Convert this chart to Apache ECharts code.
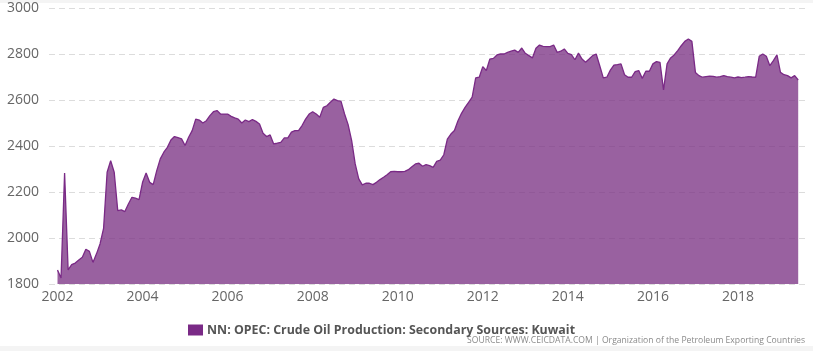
<!DOCTYPE html>
<html>
<head>
<meta charset="utf-8">
<script src="https://cdn.jsdelivr.net/npm/echarts@6/dist/echarts.min.js"></script>
<style>
  html, body { margin: 0; padding: 0; background: #fff; }
  #chart { width: 813px; height: 351px; }
</style>
</head>
<body>
<div id="chart"></div>
<script>
// monthly values, thousand barrels per day
var y2002 = [1861, 1826, 2283, 1861, 1884, 1891, 1904, 1916, 1951, 1942, 1894, 1931];
var y2003 = [1974, 2042, 2286, 2336, 2286, 2119, 2122, 2115, 2148, 2177, 2173, 2167];
var y2004 = [2242, 2283, 2242, 2232, 2293, 2344, 2373, 2394, 2426, 2441, 2436, 2431];
var y2005 = [2402, 2438, 2467, 2517, 2513, 2500, 2510, 2532, 2549, 2554, 2539, 2539];
var y2006 = [2539, 2529, 2522, 2517, 2500, 2513, 2506, 2515, 2507, 2496, 2455, 2441];
var y2007 = [2448, 2409, 2412, 2416, 2435, 2435, 2460, 2467, 2467, 2489, 2517, 2539];
var y2008 = [2549, 2539, 2525, 2568, 2575, 2590, 2604, 2597, 2594, 2539, 2493, 2423];
var y2009 = [2322, 2257, 2231, 2238, 2238, 2232, 2242, 2254, 2264, 2275, 2288, 2290];
var y2010 = [2288, 2288, 2290, 2297, 2310, 2322, 2325, 2312, 2319, 2315, 2307, 2333];
var y2011 = [2339, 2362, 2430, 2452, 2467, 2510, 2542, 2568, 2590, 2612, 2696, 2699];
var y2012 = [2745, 2728, 2778, 2781, 2796, 2800, 2800, 2807, 2812, 2817, 2807, 2826];
var y2013 = [2803, 2793, 2783, 2825, 2839, 2833, 2832, 2832, 2839, 2807, 2812, 2822];
var y2014 = [2803, 2797, 2775, 2804, 2778, 2764, 2778, 2793, 2800, 2749, 2696, 2699];
var y2015 = [2730, 2752, 2754, 2757, 2710, 2699, 2699, 2723, 2728, 2694, 2725, 2725];
var y2016 = [2757, 2767, 2764, 2644, 2757, 2783, 2796, 2815, 2836, 2855, 2865, 2855];
var y2017 = [2720, 2706, 2699, 2702, 2704, 2703, 2699, 2702, 2706, 2702, 2699, 2696];
var y2018 = [2700, 2697, 2699, 2702, 2700, 2699, 2790, 2800, 2790, 2749, 2771, 2796];
var y2019 = [2720, 2710, 2706, 2696, 2706, 2687];

var years = [2002, 2003, 2004, 2005, 2006, 2007, 2008, 2009, 2010,
             2011, 2012, 2013, 2014, 2015, 2016, 2017, 2018, 2019];
var yearValues = [y2002, y2003, y2004, y2005, y2006, y2007, y2008, y2009, y2010,
                  y2011, y2012, y2013, y2014, y2015, y2016, y2017, y2018, y2019];
var xTicks = [2002, 2004, 2006, 2008, 2010, 2012, 2014, 2016, 2018];
var seriesName = 'NN: OPEC: Crude Oil Production: Secondary Sources: Kuwait';
var sourceText = 'SOURCE: WWW.CEICDATA.COM | Organization of the Petroleum Exporting Countries';

// x position = year + month/12
var points = [];
years.forEach(function (yr, k) {
  yearValues[k].forEach(function (v, m) {
    points.push([yr + m / 12, v]);
  });
});

var chart = echarts.init(document.getElementById('chart'));
chart.setOption({
  animation: false,
  backgroundColor: '#fff',
  grid: {
    left: 49,
    right: 7,
    top: 8,
    bottom: 67,
    containLabel: false
  },
  graphic: [
    { type: 'rect', left: 0, top: 0, shape: { width: 813, height: 3 }, style: { fill: '#f4f4f4' }, silent: true },
    { type: 'rect', left: 0, top: 346, shape: { width: 813, height: 5 }, style: { fill: '#f4f4f4' }, silent: true },
    {
      type: 'text', right: 8, top: 336,
      style: { text: sourceText, fill: '#8a8a8a', font: '8.6px "Open Sans", sans-serif' }
    }
  ],
  legend: {
    left: 183,
    top: 319,
    icon: 'rect',
    itemWidth: 15,
    itemHeight: 11,
    itemGap: 10,
    textStyle: {
      color: '#555',
      fontWeight: 'bold',
      fontSize: 12.4,
      fontFamily: '"Open Sans", sans-serif',
      padding: [0, 0, 0, -1]
    },
    data: [seriesName]
  },
  xAxis: {
    type: 'value',
    min: 2001.8,
    max: 2019.6,
    axisLine: { show: false },
    axisTick: { show: false },
    splitLine: { show: false },
    axisLabel: {
      customValues: xTicks,
      margin: 6,
      color: '#666',
      fontSize: 14,
      fontFamily: '"Open Sans", sans-serif',
      formatter: function (v) { return String(Math.round(v)); }
    }
  },
  yAxis: {
    type: 'value',
    min: 1800,
    max: 3000,
    interval: 200,
    axisLine: { show: false },
    axisTick: { show: false },
    axisLabel: {
      margin: 10,
      color: '#666',
      fontSize: 14,
      fontFamily: '"Open Sans", sans-serif',
      formatter: function (v) { return String(v); }
    },
    splitLine: {
      show: true,
      lineStyle: { color: '#dcdcdc', type: [6, 4], width: 1 }
    }
  },
  series: [{
    name: seriesName,
    type: 'line',
    data: points,
    showSymbol: false,
    symbol: 'none',
    color: '#7a2a86',
    lineStyle: { color: '#7a2a86', width: 1.3 },
    areaStyle: { color: '#7a3284', opacity: 0.77, origin: 'start' },
    z: 3
  }]
});
</script>
</body>
</html>
